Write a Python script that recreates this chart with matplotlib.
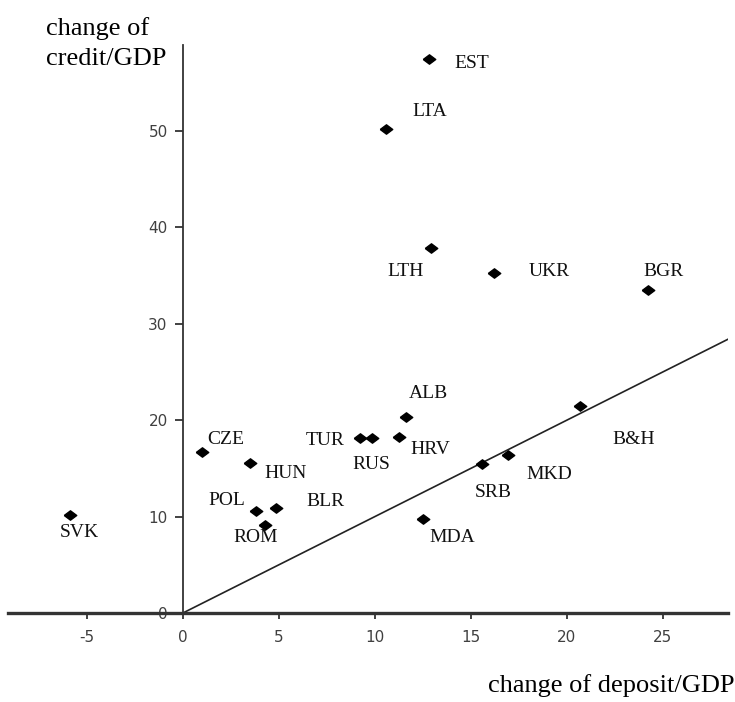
import matplotlib
matplotlib.use('Agg')
import matplotlib.pyplot as plt
import numpy as np

plt.rcParams['axes.unicode_minus'] = False

# Data
countries = ['EST', 'LTA', 'LTH', 'UKR', 'BGR', 'B&H', 'MKD', 'SRB', 'MDA', 'ALB',
             'HRV', 'RUS', 'TUR', 'CZE', 'HUN', 'POL', 'BLR', 'ROM', 'SVK']
deposit_change = [12.8, 10.6, 12.9, 16.2, 24.2, 20.7, 16.95, 15.6, 12.5, 11.6,
                  11.25, 9.85, 9.2, 1.0, 3.5, 3.8, 4.85, 4.27, -5.9]
credit_change = [57.5, 50.2, 37.8, 35.3, 33.5, 21.45, 16.4, 15.5, 9.75, 20.3,
                 18.3, 18.1, 18.1, 16.7, 15.6, 10.6, 10.85, 9.1, 10.2]

x_ticks = [-5, 0, 5, 10, 15, 20, 25]
y_ticks = [0, 10, 20, 30, 40, 50]

# label offsets in pixels (dx, dy) relative to each marker
label_offsets = [(43, -5), (43, 17), (-25, -23), (55, 1), (16, 18), (53, -33),
                 (41, -20), (11, -29), (29, -19), (23, 24), (31, -13), (-1, -26),
                 (-34, -2), (24, 12), (35, -11), (-29, 10), (49, 7), (-9, -12),
                 (10, -18)]

serif = ['Liberation Serif', 'DejaVu Serif']
tick_grey = '#404040'

fig = plt.figure(figsize=(7.35, 7.02), dpi=100)
ax = fig.add_axes([8 / 735, 89 / 702, 720 / 735, 568 / 702])

ax.set_xlim(-9.11, 28.39)
ax.set_ylim(0, 58.9)

# diamond marker, a bit flatter than tall
diamond = [(-1, 0), (0, 0.75), (1, 0), (0, -0.75), (-1, 0)]
ax.plot(deposit_change, credit_change, linestyle='none', marker=diamond,
        markersize=9, color='black', zorder=3)

for name, x, y, off in zip(countries, deposit_change, credit_change, label_offsets):
    ax.annotate(name, (x, y), xytext=off, textcoords='offset pixels',
                ha='center', va='center', fontsize=14, family=serif, color='#111111')

# 45 degree line from the origin
xs = np.array([0, ax.get_xlim()[1]])
ax.plot(xs, xs, color='#222222', linewidth=1.2, zorder=2)

# axes through the origin
for s in ['top', 'right']:
    ax.spines[s].set_visible(False)
ax.spines['left'].set_position(('data', 0))
ax.spines['left'].set_linewidth(1.3)
ax.spines['left'].set_color('#333333')
ax.spines['bottom'].set_linewidth(2.4)
ax.spines['bottom'].set_color('#333333')

ax.set_xticks(x_ticks)
ax.set_yticks(y_ticks)
ax.tick_params(axis='x', direction='out', length=4, width=1.3, color='#333333',
               pad=8, labelsize=11, labelcolor=tick_grey)
ax.tick_params(axis='y', direction='out', length=6, width=1.3, color='#333333',
               pad=5, labelsize=11, labelcolor=tick_grey)

# y axis title, two lines
fig.text(46 / 735, 1 - 35 / 702, 'change of', ha='left', va='baseline',
         fontsize=19, family=serif)
fig.text(46 / 735, 1 - 65 / 702, 'credit/GDP', ha='left', va='baseline',
         fontsize=19, family=serif)
fig.text(734 / 735, 1 - 692 / 702, 'change of deposit/GDP', ha='right', va='baseline',
         fontsize=19, family=serif)

fig.savefig('out.png', dpi=100)
